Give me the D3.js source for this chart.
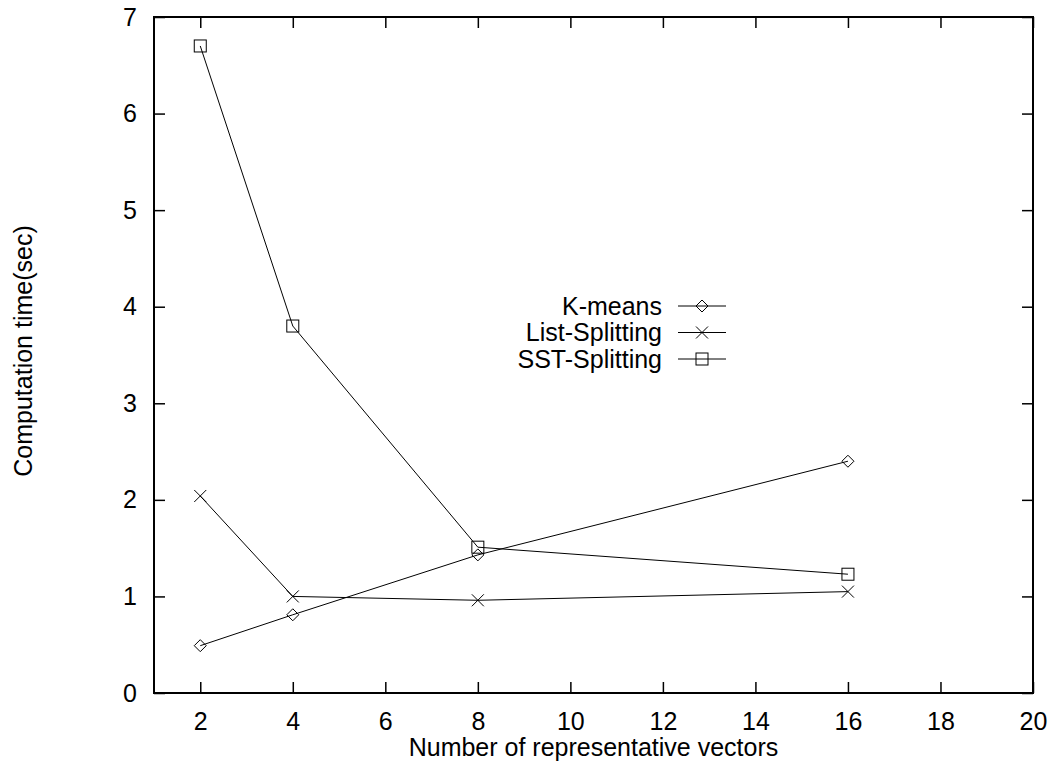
<!DOCTYPE html>
<html>
<head>
<meta charset="utf-8">
<title>Computation time</title>
<script src="https://d3js.org/d3.v7.min.js"></script>
<style>
  body { margin: 0; background: #fff; }
  text { font-family: "Liberation Sans", Arial, sans-serif; fill: #000; }
</style>
</head>
<body>
<div id="chart"></div>
<script>
// values
var vectors = [2, 4, 8, 16];
var kMeans = [0.49, 0.81, 1.43, 2.40];
var listSplitting = [2.04, 1.00, 0.96, 1.05];
var sstSplitting = [6.70, 3.80, 1.51, 1.23];
var xTicks = [2, 4, 6, 8, 10, 12, 14, 16, 18, 20];
var yTicks = [0, 1, 2, 3, 4, 5, 6, 7];

var series = [
  { name: "K-means", values: kMeans, marker: "diamond" },
  { name: "List-Splitting", values: listSplitting, marker: "cross" },
  { name: "SST-Splitting", values: sstSplitting, marker: "square" }
];

var W = 1053, H = 768,
    margin = { top: 17, right: 20, bottom: 75, left: 154 },
    width = W - margin.left - margin.right,
    height = H - margin.top - margin.bottom,
    fontSize = "25px";

var svg = d3.select("#chart").append("svg")
    .attr("width", W).attr("height", H);
var g = svg.append("g").attr("transform", `translate(${margin.left},${margin.top})`);

var x = d3.scaleLinear().domain([1, 20]).range([0, width]);
var y = d3.scaleLinear().domain([0, 7]).range([height, 0]);

// mirrored ticks like gnuplot
function styleAxis(sel) {
  sel.select(".domain").remove();
  sel.attr("font-size", null).attr("font-family", null);
  sel.selectAll(".tick line").attr("stroke", "#000").attr("stroke-width", 1.5);
  sel.selectAll(".tick text").style("font-size", fontSize);
}
g.append("g").attr("transform", `translate(0,${height})`)
  .call(d3.axisBottom(x).tickValues(xTicks).tickSizeInner(-11).tickPadding(19).tickFormat(d3.format("d")))
  .call(styleAxis);
g.append("g")
  .call(d3.axisTop(x).tickValues(xTicks).tickSizeInner(-11).tickFormat(""))
  .call(styleAxis);
g.append("g")
  .call(d3.axisLeft(y).tickValues(yTicks).tickSizeInner(-11).tickPadding(17).tickFormat(d3.format("d")))
  .call(styleAxis);
g.append("g").attr("transform", `translate(${width},0)`)
  .call(d3.axisRight(y).tickValues(yTicks).tickSizeInner(-11).tickFormat(""))
  .call(styleAxis);

g.append("rect").attr("width", width).attr("height", height)
  .attr("fill", "none").attr("stroke", "#000").attr("stroke-width", 2);

// markers
function drawMarker(sel, type, cx, cy) {
  var s = 6;
  if (type === "diamond") {
    sel.append("path").attr("d", `M${cx},${cy - s}L${cx + s},${cy}L${cx},${cy + s}L${cx - s},${cy}Z`)
      .attr("fill", "none").attr("stroke", "#000").attr("stroke-width", 1);
  } else if (type === "square") {
    sel.append("rect").attr("x", cx - s).attr("y", cy - s).attr("width", 2 * s).attr("height", 2 * s)
      .attr("fill", "none").attr("stroke", "#000").attr("stroke-width", 1);
  } else {
    sel.append("path").attr("d", `M${cx - s},${cy - s}L${cx + s},${cy + s}M${cx - s},${cy + s}L${cx + s},${cy - s}`)
      .attr("stroke", "#000").attr("stroke-width", 1);
  }
}

var line = d3.line().x(d => x(d[0])).y(d => y(d[1]));
series.forEach(function (s) {
  var pts = vectors.map((v, i) => [v, s.values[i]]);
  g.append("path").datum(pts).attr("d", line)
    .attr("fill", "none").attr("stroke", "#000").attr("stroke-width", 1);
  pts.forEach(p => drawMarker(g, s.marker, x(p[0]), y(p[1])));
});

// legend
var legend = svg.append("g").attr("transform", "translate(662,306)");
series.forEach(function (s, i) {
  var ly = i * 26.5;
  legend.append("text").attr("x", 0).attr("y", ly).attr("dy", "0.35em")
    .attr("text-anchor", "end").style("font-size", fontSize).text(s.name);
  legend.append("line").attr("x1", 16).attr("x2", 64).attr("y1", ly).attr("y2", ly)
    .attr("stroke", "#000").attr("stroke-width", 1);
  drawMarker(legend, s.marker, 40, ly);
});

// axis titles
svg.append("text").attr("transform", "translate(32,351) rotate(-90)")
  .attr("text-anchor", "middle").style("font-size", fontSize).text("Computation time(sec)");
svg.append("text").attr("x", margin.left + width / 2).attr("y", 756)
  .attr("text-anchor", "middle").style("font-size", fontSize).text("Number of representative vectors");
</script>
</body>
</html>
